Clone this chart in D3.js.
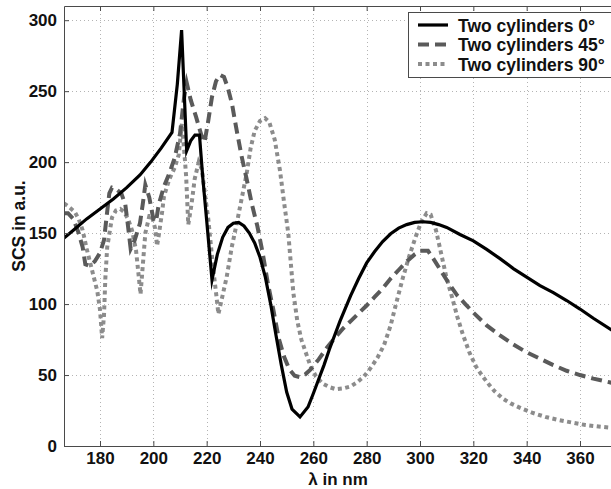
<!DOCTYPE html>
<html>
<head>
<meta charset="utf-8">
<script src="https://cdn.jsdelivr.net/npm/d3@7/dist/d3.min.js"></script>
<style>
  html, body { margin: 0; padding: 0; background: #fff; }
  svg { display: block; font-family: "Liberation Sans", Arial, Helvetica, sans-serif; }
</style>
</head>
<body>
<svg id="chart" width="611" height="489"></svg>
<script>
// Scattering cross section spectra of two cylinders at three orientations

const xTicks = [180, 200, 220, 240, 260, 280, 300, 320, 340, 360];
const yTicks = [0, 50, 100, 150, 200, 250, 300];

// 0° orientation
const lambda0 = [166.5, 170, 175, 180, 185, 190, 195, 199, 203, 207, 209, 210.6, 212.5, 214, 215.6, 217.3,
  218.5, 220, 222, 224, 226, 228, 230, 232, 234, 236, 238, 240, 242, 244, 246, 248, 250, 252, 255, 258,
  260, 262, 264, 266, 268, 270, 272, 274, 277, 280, 283, 286, 289, 292, 295, 298, 301, 304, 307, 310,
  315, 320, 325, 330, 335, 340, 345, 350, 355, 360, 365, 372];
const scs0 = [146.5, 152, 160, 167, 174, 182, 191, 200, 210, 221, 255, 293, 208, 215, 219, 219,
  190, 159, 117, 135, 147, 154, 157, 157.5, 155, 150, 143, 133, 119, 100, 78, 57, 38, 26, 20.5, 27.5,
  37, 47, 57, 68, 78, 88, 97, 106, 118, 129, 137, 144, 149.5, 153.5, 156, 157.5, 158, 157.5, 156, 154,
  149, 144.5, 138.5, 132, 125, 119, 113, 108, 102.5, 96.5, 90, 81.5];

// 45° orientation
const lambda45 = [166.5, 168, 170, 172, 173.5, 174.5, 176, 178, 180, 181.5, 182.5, 183.5, 184.5, 186, 188,
  189.5, 190.5, 191.5, 193, 195, 196, 197, 198.5, 200, 201, 202, 204, 206, 208, 210, 211.5, 212.5, 214,
  216, 218, 219.2, 220.5, 222, 223.5, 225, 226.5, 228, 229.5, 231, 233, 235, 237, 239, 241, 243, 245,
  247, 249, 251, 253, 255, 257, 259, 262, 265, 268, 271, 274, 277, 280, 283, 286, 289, 292, 295, 298,
  300, 303, 305, 308, 311, 314, 317, 320, 325, 330, 335, 340, 345, 350, 355, 360, 365, 372];
const scs45 = [164, 164, 160, 150, 140, 128, 127, 130, 136, 145, 162, 178, 182, 181, 178,
  170, 155, 139, 145, 157, 170, 184, 175, 160, 158, 170, 183, 192, 203, 220, 245, 256, 244,
  232, 219, 214, 228, 246, 257, 261.5, 260, 252, 241, 225, 205, 188, 170, 155, 136, 114, 96,
  76, 63, 54, 49.5, 48.5, 50.5, 54, 61, 69, 76, 82.5, 88, 93.5, 99, 105, 111, 118, 124, 130, 135,
  137.5, 137.5, 132, 123, 114, 106, 100, 94, 85, 78, 71.5, 66, 61.5, 57, 53, 50, 47.5, 44.5];

// 90° orientation
const lambda90 = [166.5, 168, 170.5, 172, 173.5, 175, 177, 179, 180, 180.8, 181.5, 182, 182.7, 184.5, 186,
  187.6, 189, 190.5, 192, 193.5, 194.5, 195.2, 196, 197, 198.5, 199.5, 200.7, 201.4, 202, 203.3, 204,
  206, 208, 209.5, 210.7, 211.5, 212.3, 213.1, 214.3, 215.5, 217, 218.2, 219.5, 220.6, 221.5, 222.5,
  223.7, 224.4, 225.6, 227.5, 229.4, 231.3, 233.2, 235, 236.5, 238, 240, 241.9, 243.5, 245.5, 247.5,
  249, 250.6, 252.5, 254, 255.5, 257.5, 259, 261, 263.5, 266, 268.5, 271, 274, 276.5, 279, 281.5, 284,
  286.5, 289, 291, 293.5, 296, 298.5, 300.5, 302.5, 304, 306, 308, 310, 312, 314, 316, 318.5, 321,
  323.5, 326, 328, 331, 334, 338, 342, 347, 352, 357, 362, 367, 372];
const scs90 = [171, 169, 165, 160, 152, 139, 124, 109, 96, 76, 92, 118, 140, 161, 166,
  167, 165, 160, 152, 138, 120, 107, 126, 150, 162, 162, 153, 141, 148, 165, 176,
  188, 196, 205, 227, 210, 190, 156, 170, 188, 200, 195, 175, 160, 143, 124,
  105, 93, 103, 119, 140, 157, 175, 192, 210, 222, 229, 231, 228, 216, 194,
  172, 150, 108, 88, 75, 64, 56, 49, 44, 41.5, 40, 40.5, 42, 45, 49, 55, 62,
  71, 85, 100, 118, 134, 148, 158, 164, 163, 152, 135, 118, 105, 91, 79, 66, 56,
  49, 43, 38.5, 33.5, 30, 26.5, 23.5, 20.5, 18.3, 16.5, 14.8, 13.7, 12.8];

const seriesNames = ["Two cylinders 0\u00b0", "Two cylinders 45\u00b0", "Two cylinders 90\u00b0"];

const series = [
  { name: seriesNames[0], x: lambda0, y: scs0, color: "#000000", width: 3.2, dash: null },
  { name: seriesNames[1], x: lambda45, y: scs45, color: "#5a5a5a", width: 4, dash: "11,6" },
  { name: seriesNames[2], x: lambda90, y: scs90, color: "#8c8c8c", width: 4, dash: "4,3.5" }
];

const svg = d3.select("#chart");
const plotL = 64, plotR = 612, plotT = 6, plotB = 446;

const x = d3.scaleLinear().domain([166.5, 372]).range([plotL, plotR]);
const y = d3.scaleLinear().domain([0, 310]).range([plotB, plotT]);

// dotted grid
const grid = svg.append("g").attr("stroke", "#b4b4b4").attr("stroke-width", 1).attr("stroke-dasharray", "1,3");
grid.selectAll("line.vx").data(xTicks).join("line")
  .attr("x1", d => Math.round(x(d)) + 0.5).attr("x2", d => Math.round(x(d)) + 0.5)
  .attr("y1", plotT).attr("y2", plotB);
grid.selectAll("line.hy").data(yTicks.filter(v => v > 0)).join("line")
  .attr("x1", plotL).attr("x2", plotR)
  .attr("y1", d => Math.round(y(d)) + 0.5).attr("y2", d => Math.round(y(d)) + 0.5);

// curves
svg.append("clipPath").attr("id", "plotclip")
  .append("rect").attr("x", plotL).attr("y", plotT).attr("width", plotR - plotL).attr("height", plotB - plotT);

const line = d3.line().x(d => x(d[0])).y(d => y(d[1])).curve(d3.curveLinear);
const plot = svg.append("g").attr("clip-path", "url(#plotclip)");
// dotted first, then dashed, then solid on top
[2, 1, 0].forEach(i => {
  const s = series[i];
  plot.append("path")
    .datum(s.x.map((v, k) => [v, s.y[k]]))
    .attr("fill", "none")
    .attr("stroke", s.color)
    .attr("stroke-width", s.width)
    .attr("stroke-linejoin", "miter")
    .attr("stroke-miterlimit", 10)
    .attr("stroke-dasharray", s.dash)
    .attr("d", line);
});

// axes with inward ticks
const tickLen = 5;
const xAxisB = d3.axisBottom(x).tickValues(xTicks).tickSizeInner(-tickLen).tickSizeOuter(0).tickPadding(6);
const xAxisT = d3.axisTop(x).tickValues(xTicks).tickSizeInner(-tickLen).tickSizeOuter(0).tickFormat("");
const yAxisL = d3.axisLeft(y).tickValues(yTicks).tickSizeInner(-tickLen).tickSizeOuter(0).tickPadding(7);

function styleAxis(g) {
  g.select(".domain").attr("stroke", "#4a4a4a").attr("stroke-width", 1);
  g.selectAll(".tick line").attr("stroke", "#4a4a4a");
  g.selectAll(".tick text").attr("fill", "#111").style("font-size", "17px").style("font-weight", "bold")
    .style("font-family", "'Liberation Sans', Arial, sans-serif");
}

svg.append("g").attr("transform", `translate(0,${plotB})`).call(xAxisB).call(styleAxis);
svg.append("g").attr("transform", `translate(0,${plotT})`).call(xAxisT).call(styleAxis);
svg.append("g").attr("transform", `translate(${plotL},0)`).call(yAxisL).call(styleAxis);

// axis titles
svg.append("text")
  .attr("x", (plotL + plotR) / 2).attr("y", 485)
  .attr("text-anchor", "middle")
  .style("font-size", "17px").style("font-weight", "bold").attr("fill", "#111")
  .text("\u03bb in nm");
svg.append("text")
  .attr("transform", `translate(25,${(plotT + plotB) / 2}) rotate(-90)`)
  .attr("text-anchor", "middle")
  .style("font-size", "17.5px").style("font-weight", "bold").attr("fill", "#111")
  .text("SCS in a.u.");

// legend
const lg = svg.append("g");
lg.append("rect").attr("x", 408.5).attr("y", 12.5).attr("width", 220).attr("height", 65)
  .attr("fill", "#fff").attr("stroke", "#4a4a4a").attr("stroke-width", 1);
series.forEach((s, i) => {
  const cy = 25 + i * 19.5;
  lg.append("line").attr("x1", 418).attr("x2", 448).attr("y1", cy).attr("y2", cy)
    .attr("stroke", s.color).attr("stroke-width", s.width).attr("stroke-dasharray", s.dash);
  lg.append("text").attr("x", 458).attr("y", cy + 6.5)
    .style("font-size", "17.5px").style("font-weight", "bold").attr("fill", "#111")
    .text(s.name);
});
</script>
</body>
</html>
